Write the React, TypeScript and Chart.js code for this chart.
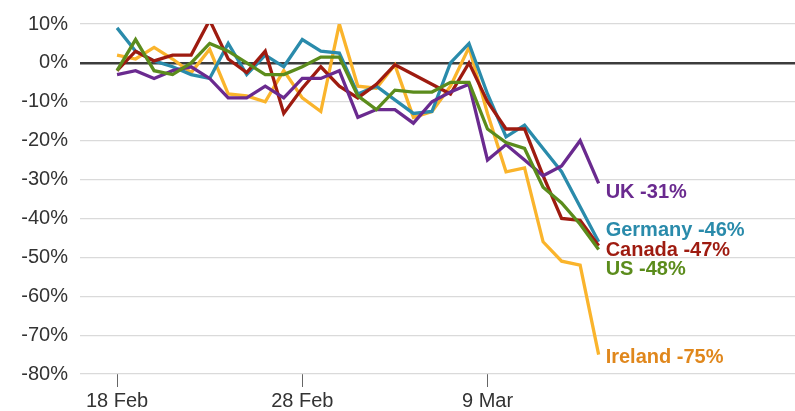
import React, { useEffect, useRef } from "react";
import { Chart, registerables } from "chart.js";

Chart.register(...registerables);

const dates = [
  "18 Feb", "19 Feb", "20 Feb", "21 Feb", "22 Feb", "23 Feb", "24 Feb", "25 Feb", "26 Feb",
  "27 Feb", "28 Feb", "29 Feb", "1 Mar", "2 Mar", "3 Mar", "4 Mar", "5 Mar", "6 Mar",
  "7 Mar", "8 Mar", "9 Mar", "10 Mar", "11 Mar", "12 Mar", "13 Mar", "14 Mar", "15 Mar",
];
const xTickIndex = [0, 10, 20];
const xTickLabels = ["18 Feb", "28 Feb", "9 Mar"];

const us = [-2, 6, -2, -3, 0, 5, 3, 0, -3, -3, -1, 1.5, 1.5, -8.5, -12, -7, -7.5, -7.5, -5, -5, -17, -20.5, -22, -32, -36, -41.5, -48];
const uk = [-3, -2, -4, -2, -1, -4, -9, -9, -6, -9, -4, -4, -2, -14, -12, -12, -15.5, -10, -7.5, -5.5, -25, -21, -25, -29, -26.5, -20, -31];
const canada = [-2, 3, 0.5, 2, 2, 11, 1, -2.5, 3, -13, -6.5, -1, -6, -9, -5.5, -0.5, -3, -5.5, -8, 0, -10, -17, -17, -29, -40, -40.5, -47];
const germany = [9, 3, 0.5, -1, -3, -4, 5, -3, 2, -1, 6, 3, 2.5, -8, -6, -9.5, -13, -12.5, 0, 5, -8, -19, -16, -22, -28, -37, -46];
const ireland = [2, 1, 4, 1, -2.5, 3.5, -8, -8.5, -10, -2, -9, -12.5, 10, -6, -6.5, -0.5, -14, -12.5, -6, 4, -13, -28, -27, -46, -51, -52, -75];

const seriesNames = ["US", "UK", "Canada", "Germany", "Ireland"];
const seriesValues = [us, uk, canada, germany, ireland];

const styles: Record<string, { line: string; label: string; dy: number }> = {
  US: { line: "#5b8c1c", label: "#5b8c1c", dy: 20 },
  UK: { line: "#6a2a8f", label: "#6a2a8f", dy: 9 },
  Canada: { line: "#9e1b10", label: "#9e1b10", dy: 5 },
  Germany: { line: "#2a8bab", label: "#2a8bab", dy: -11 },
  Ireland: { line: "#fab42c", label: "#e0871c", dy: 3 },
};

const FONT = "'Liberation Sans', Arial, Helvetica, sans-serif";

const endLabels = {
  id: "endLabels",
  afterDatasetsDraw(chart: any) {
    const ctx = chart.ctx;
    ctx.save();
    ctx.font = `bold 20px ${FONT}`;
    ctx.textBaseline = "middle";
    ctx.textAlign = "left";
    chart.data.datasets.forEach((ds: any, i: number) => {
      const meta = chart.getDatasetMeta(i);
      const pt = meta.data[meta.data.length - 1];
      const name = seriesNames[i];
      const last = ds.data[ds.data.length - 1].y;
      ctx.fillStyle = styles[name].label;
      ctx.fillText(`${name} ${Math.round(last)}%`, pt.x + 7, pt.y + styles[name].dy);
    });
    ctx.restore();
  },
};

export default function App() {
  const ref = useRef<HTMLCanvasElement>(null);
  useEffect(() => {
    document.body.style.margin = "0";
    const chart = new Chart(ref.current as HTMLCanvasElement, {
      type: "line",
      data: {
        datasets: seriesNames.map((name, i) => ({
          label: name,
          data: seriesValues[i].map((v, j) => ({ x: j, y: v })),
          borderColor: styles[name].line,
          backgroundColor: styles[name].line,
          borderWidth: 3.3,
          pointRadius: 0,
          tension: 0,
          borderJoinStyle: "miter" as const,
        })),
      },
      options: {
        animation: false,
        responsive: false,
        devicePixelRatio: 1,
        layout: { padding: { top: 19, right: 0, left: 0, bottom: 0 } },
        plugins: { legend: { display: false }, tooltip: { enabled: false } },
        scales: {
          x: {
            type: "linear",
            min: -2,
            max: 36.6,
            afterBuildTicks: (scale: any) => {
              scale.ticks = xTickIndex.map((v) => ({ value: v }));
            },
            afterFit: (scale: any) => {
              scale.height = 37;
            },
            ticks: {
              autoSkip: false,
              maxRotation: 0,
              padding: 2,
              color: "#333",
              font: { family: FONT, size: 20 },
              callback: (v: any) => {
                const k = xTickIndex.indexOf(Number(v));
                return k >= 0 ? xTickLabels[k] : "";
              },
            },
            grid: { drawOnChartArea: false, drawTicks: true, tickLength: 13, tickColor: "#666", lineWidth: 1 },
            border: { display: false },
          },
          y: {
            min: -80,
            max: 10,
            afterFit: (scale: any) => {
              scale.width = 80;
            },
            ticks: {
              stepSize: 10,
              padding: 12,
              color: "#333",
              font: { family: FONT, size: 20 },
              callback: (v: any) => `${v}%`,
            },
            grid: {
              drawTicks: false,
              color: (c: any) => (c.tick && c.tick.value === 0 ? "#3c3c3c" : "#dadada"),
              lineWidth: (c: any) => (c.tick && c.tick.value === 0 ? 2.5 : 1.2),
            },
            border: { display: false },
          },
        },
      },
      plugins: [endLabels],
    });
    return () => chart.destroy();
  }, []);
  return <canvas ref={ref} width={795} height={411} style={{ display: "block" }} />;
}
